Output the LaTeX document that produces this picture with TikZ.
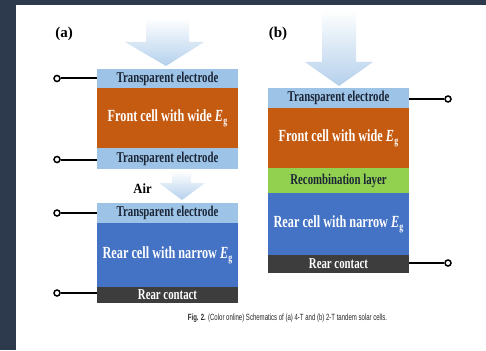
\documentclass[tikz,border=0pt]{standalone}
\usepackage{fontspec}
\usepackage{graphicx}
\setmainfont{Liberation Serif}
\newfontfamily\capfont{Liberation Sans}

\definecolor{frame}{HTML}{2D394D}
\definecolor{tcolayer}{HTML}{9DC3E6}
\definecolor{widegap}{HTML}{C55A11}
\definecolor{narrowgap}{HTML}{4472C4}
\definecolor{recomb}{HTML}{92D050}
\definecolor{contact}{HTML}{3D3D3D}
\definecolor{lightray}{HTML}{B4D0EC}
\definecolor{darktext}{HTML}{1B2536}

% horizontally condensed bold lettering
\newcommand\narrowtxt[1]{\scalebox{0.72}[1]{#1}}
\newcommand\gap{\textit{E}\kern0.3pt\raisebox{-3pt}{\fontsize{11}{11}\selectfont g}}

\begin{document}
\begin{tikzpicture}[x=1pt, y=-1pt,
  layer/.style={inner sep=0pt, minimum width=141pt, font=\bfseries},
  tco/.style={layer, fill=tcolayer, text=darktext, font=\fontsize{15}{15}\selectfont\bfseries},
  bulk/.style={layer, text=white, font=\fontsize{17}{17}\selectfont\bfseries},
  rc/.style={layer, fill=contact, text=white, font=\fontsize{15}{15}\selectfont\bfseries},
  rl/.style={layer, fill=recomb, text=darktext, font=\fontsize{15}{15}\selectfont\bfseries},
  term/.style={circle, draw=black, fill=white, line width=1.5pt, inner sep=0pt, minimum size=6pt},
  wire/.style={line width=2pt},
  ray/.style={top color=white, bottom color=lightray},
  tag/.style={font=\fontsize{15}{16}\selectfont\bfseries}
]
\useasboundingbox (0,0) rectangle (486,350);
\fill[white] (0,0) rectangle (486,350);
\fill[frame] (0,0) rectangle (486,5);
\fill[frame] (0,0) rectangle (16,350);

% incident light
\shade[ray] (146,18) -- (189,18) -- (189,42) -- (204,42) -- (166,66)
  -- (125,42) -- (146,42) -- cycle;
\shade[ray] (322,10) -- (356,10) -- (356,62) -- (373,62) -- (339,86)
  -- (305,62) -- (322,62) -- cycle;
\shade[ray] (172,171) -- (191,171) -- (191,183) -- (205,183) -- (182,200)
  -- (159,183) -- (172,183) -- cycle;

% panel labels
\node[tag] (la) at (64,34) {(a)};
\node[tag] (lb) at (278,34) {(b)};
\node[font=\fontsize{14}{14}\selectfont\bfseries] (air) at (142.5,189) {\scalebox{0.9}[1]{Air}};

% (a) four-terminal stack
\node[tco, minimum height=19pt] (a1) at (167.5,78.5) {\narrowtxt{Transparent electrode}};
\node[bulk, fill=widegap, minimum height=60pt] (a2) at (167.5,118) {\narrowtxt{Front cell with wide \gap}};
\node[tco, minimum height=21pt] (a3) at (167.5,158.5) {\narrowtxt{Transparent electrode}};
\node[tco, minimum height=20pt] (a4) at (167.5,213) {\narrowtxt{Transparent electrode}};
\node[bulk, fill=narrowgap, minimum height=64pt] (a5) at (167.5,255) {\narrowtxt{Rear cell with narrow \gap}};
\node[rc, minimum height=16pt] (a6) at (167.5,295) {\narrowtxt{Rear contact}};

% (b) two-terminal stack
\node[tco, minimum height=20pt] (b1) at (338.5,98) {\narrowtxt{Transparent electrode}};
\node[bulk, fill=widegap, minimum height=60pt] (b2) at (338.5,138) {\narrowtxt{Front cell with wide \gap}};
\node[rl, minimum height=25pt] (b3) at (338.5,180.5) {\narrowtxt{Recombination layer}};
\node[bulk, fill=narrowgap, minimum height=62pt] (b4) at (338.5,224) {\narrowtxt{Rear cell with narrow \gap}};
\node[rc, minimum height=18pt] (b5) at (338.5,264) {\narrowtxt{Rear contact}};

% terminals
\node[term] (ta1) at (57,78.5) {};
\node[term] (ta2) at (57,159.5) {};
\node[term] (ta3) at (57,213) {};
\node[term] (ta4) at (57,293) {};
\node[term] (tb1) at (448,99) {};
\node[term] (tb2) at (448,263) {};
\draw[wire] (ta1) -- (a1.west|-ta1);
\draw[wire] (ta2) -- (a3.west|-ta2);
\draw[wire] (ta3) -- (a4.west|-ta3);
\draw[wire] (ta4) -- (a6.west|-ta4);
\draw[wire] (tb1) -- (b1.east|-tb1);
\draw[wire] (tb2) -- (b5.east|-tb2);

% caption
\node[font=\capfont\fontsize{9}{10}\selectfont, text=black!85] (cap) at (287.5,318)
  {\scalebox{0.67}[1]{\textbf{Fig. 2.} (Color online) Schematics of (a) 4-T and (b) 2-T tandem solar cells.}};
\end{tikzpicture}
\end{document}
